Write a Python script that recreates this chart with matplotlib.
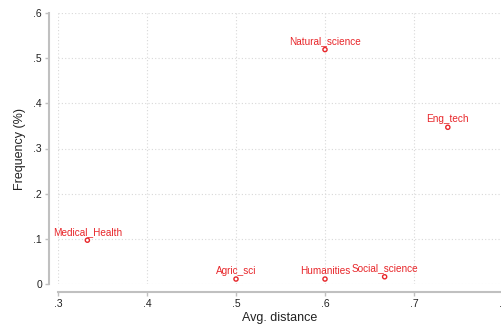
import matplotlib
matplotlib.use("Agg")
import matplotlib.pyplot as plt
from matplotlib.ticker import FuncFormatter

plt.rcParams["font.family"] = ["Liberation Sans", "DejaVu Sans"]

fields = ["Medical_Health", "Agric_sci", "Humanities", "Social_science",
          "Natural_science", "Eng_tech"]
avg_distance = [0.333, 0.500, 0.600, 0.667, 0.600, 0.738]
frequency = [0.097, 0.011, 0.011, 0.016, 0.519, 0.347]

red = "#e8262a"
axis_grey = "#c0c0c0"
px = 72 / 100  # points per pixel at dpi 100

fig = plt.figure(figsize=(5.02, 3.28), dpi=100)
ax = fig.add_axes([58 / 502, 1 - 284 / 328, 445 / 502, 271 / 328])

ax.scatter(avg_distance, frequency, s=9, facecolors="none", edgecolors=red,
           linewidths=1.0, zorder=3)
for name, x, y in zip(fields, avg_distance, frequency):
    ax.annotate(name, (x, y), xytext=(0, 2.5), textcoords="offset points",
                ha="center", va="bottom", color=red, fontsize=7.2, zorder=4)

ax.set_xlim(0.3, 0.8)
ax.set_ylim(0, 0.6)
ax.set_xticks([0.3, 0.4, 0.5, 0.6, 0.7, 0.8])
ax.set_yticks([0, 0.1, 0.2, 0.3, 0.4, 0.5, 0.6])

def stata_fmt(v, pos):
    if abs(v) < 1e-9:
        return "0"
    return ("%.1f" % v).lstrip("0")

ax.xaxis.set_major_formatter(FuncFormatter(stata_fmt))
ax.yaxis.set_major_formatter(FuncFormatter(stata_fmt))

ax.grid(True, color="#d8d8d8", linestyle=(0, (1, 2)), linewidth=0.8)
ax.set_axisbelow(True)

for side in ["top", "right"]:
    ax.spines[side].set_visible(False)
ax.spines["left"].set_position(("outward", 9 * px))
ax.spines["bottom"].set_position(("outward", 8 * px))
for side in ["left", "bottom"]:
    ax.spines[side].set_color(axis_grey)
    ax.spines[side].set_linewidth(1.5)
ax.tick_params(colors=axis_grey, labelcolor="#222222", labelsize=7.5,
               length=3, width=1.0, pad=2)

ax.set_xlabel("Avg. distance", fontsize=9, color="#222222")
ax.set_ylabel("Frequency (%)", fontsize=9, color="#222222")
ax.xaxis.set_label_coords((280 - 58) / 445, -(312 - 284) / 271)
ax.yaxis.set_label_coords(-(58 - 26) / 445, (284 - 149) / 271)

fig.savefig("out.png", dpi=100)
